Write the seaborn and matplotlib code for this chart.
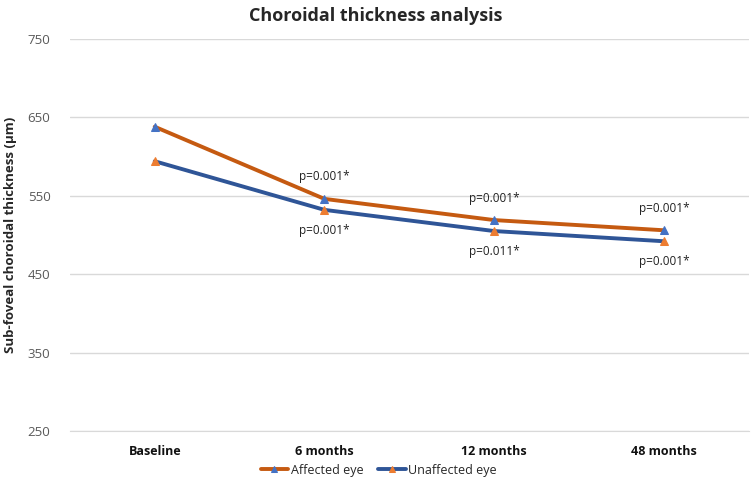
import pandas as pd
import matplotlib.pyplot as plt
import seaborn as sns

timepoints = ['Baseline', '6 months', '12 months', '48 months']
affected = [638, 546, 519, 506]
unaffected = [594, 532, 505, 492]
p_above = ['', 'p=0.001*', 'p=0.001*', 'p=0.001*']
p_below = ['', 'p=0.001*', 'p=0.011*', 'p=0.001*']

df = pd.DataFrame({
    'time': timepoints * 2,
    'thickness': affected + unaffected,
    'eye': ['Affected eye'] * 4 + ['Unaffected eye'] * 4,
})

sns.set_style('white')
plt.rcParams['font.family'] = ['Open Sans', 'DejaVu Sans']

fig = plt.figure(figsize=(7.51, 4.86), dpi=100)
ax = fig.add_axes([0.093, 0.113, 0.904, 0.807])

line_colors = {'Affected eye': '#C55A11', 'Unaffected eye': '#2F5597'}
marker_colors = {'Affected eye': '#4472C4', 'Unaffected eye': '#ED7D31'}

for eye in ['Affected eye', 'Unaffected eye']:
    sub = df[df['eye'] == eye]
    sns.lineplot(data=sub, x='time', y='thickness', ax=ax, label=eye,
                 color=line_colors[eye], linewidth=2.8, marker='^',
                 markersize=6, markerfacecolor=marker_colors[eye],
                 markeredgecolor=marker_colors[eye], sort=False)

for i, t in enumerate(timepoints):
    if p_above[i]:
        ax.text(i, affected[i] + 28, p_above[i], ha='center', va='center',
                fontsize=8.5, color='#222222')
    if p_below[i]:
        ax.text(i, unaffected[i] - 26, p_below[i], ha='center', va='center',
                fontsize=8.5, color='#222222')

ax.set_ylim(250, 750)
ax.set_yticks([250, 350, 450, 550, 650, 750])
ax.set_xlim(-0.5, 3.5)
ax.yaxis.grid(True, color='#D9D9D9', linewidth=1)
for s in ax.spines.values():
    s.set_visible(False)
ax.spines['bottom'].set_visible(True)
ax.spines['bottom'].set_color('#D9D9D9')
ax.tick_params(axis='y', colors='#595959', labelsize=9.5, length=0, pad=14)
ax.tick_params(axis='x', length=0, pad=10)
for lbl in ax.get_xticklabels():
    lbl.set_fontweight('bold')
    lbl.set_fontsize(9)
    lbl.set_color('#111111')

ax.set_xlabel('')
ax.set_ylabel('Sub-foveal choroidal thickness (µm)', fontsize=9.5,
              fontweight='bold', labelpad=8)
fig.suptitle('Choroidal thickness analysis', fontsize=13, fontweight='bold',
             y=0.985)

ax.legend(loc='center', bbox_to_anchor=(0.455, -0.1), ncol=2,
          frameon=False, fontsize=9, handlelength=2.2, columnspacing=1.2,
          handletextpad=0.2, markerscale=0.8, borderpad=0.2)

fig.savefig('out.png', dpi=100)
